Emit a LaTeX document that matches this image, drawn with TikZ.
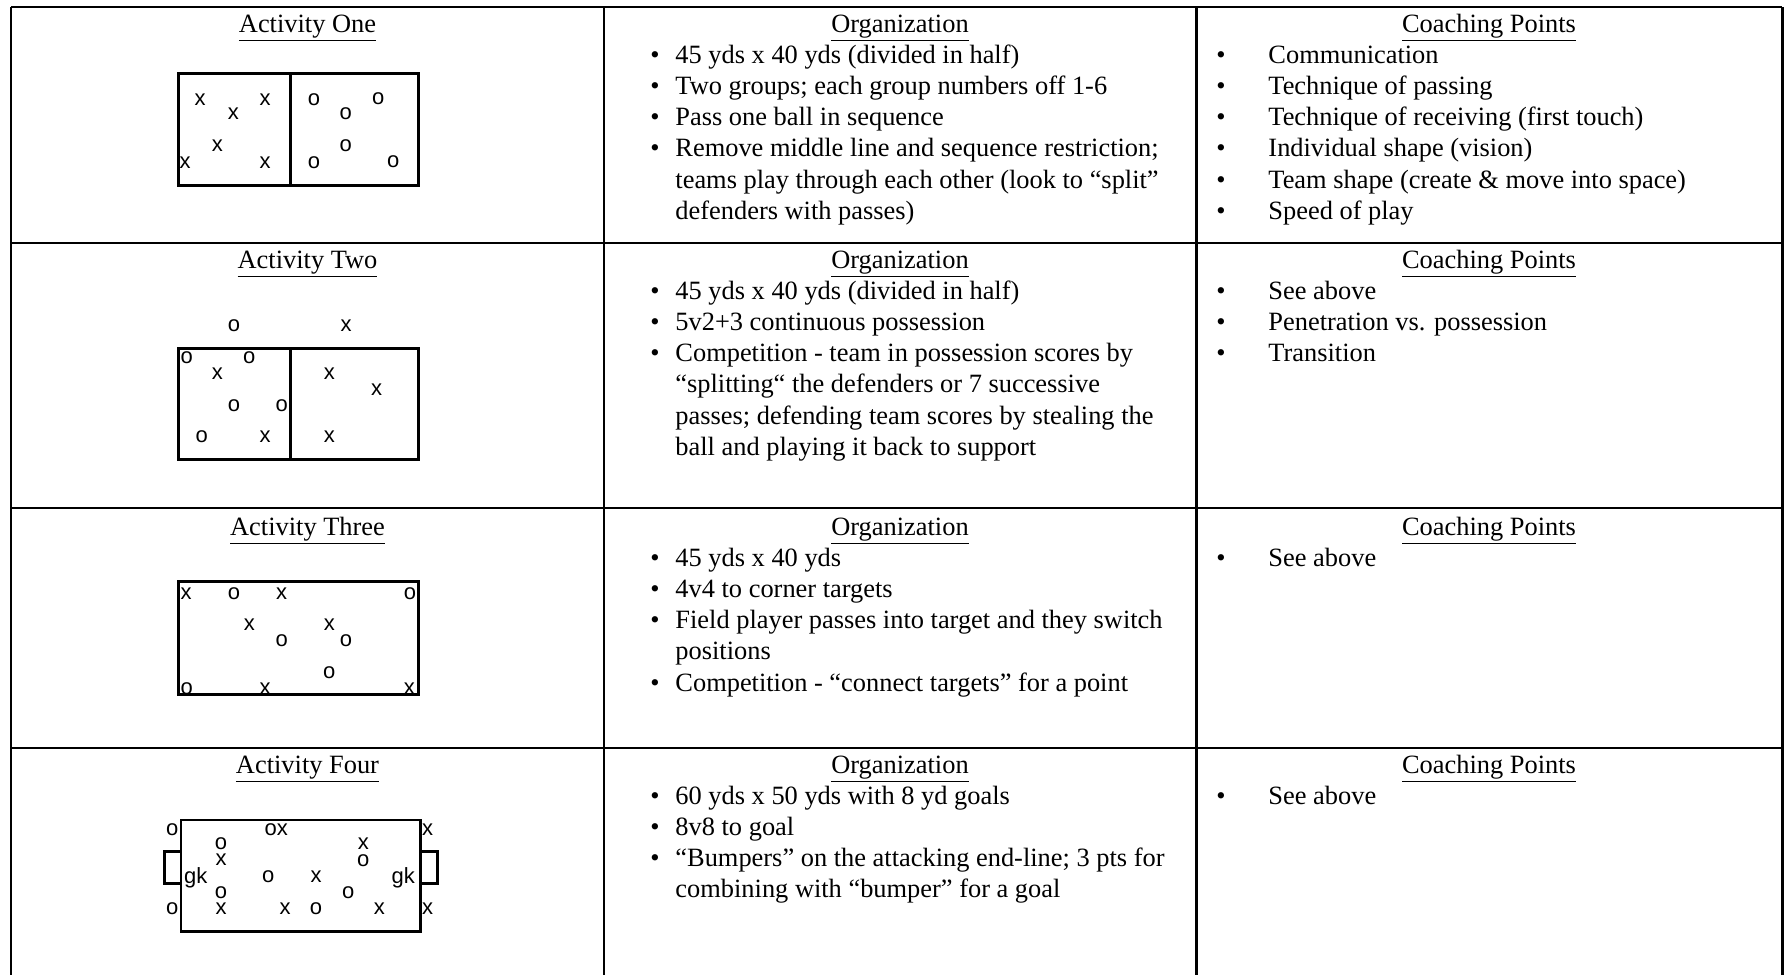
\documentclass[tikz,border=0pt]{standalone}
\usepackage{fontspec}
\setmainfont{Liberation Serif}
\setsansfont{Liberation Sans}
\begin{document}
\begin{tikzpicture}[x=0.4545pt,y=-0.4545pt,
  rule/.style={line width=1.35pt},
  field/.style={line width=1.3pt},
  hd/.style={anchor=base,inner sep=0pt,font=\fontsize{12}{14}\selectfont},
  ln/.style={anchor=base west,inner sep=0pt,font=\fontsize{12}{14}\selectfont},
  bul/.style={anchor=base,inner sep=0pt,font=\fontsize{12}{14}\selectfont},
  mk/.style={anchor=center,inner sep=0pt,font=\sffamily\fontsize{10}{12}\selectfont},
  mkb/.style={anchor=base,inner sep=0pt,font=\sffamily\fontsize{10}{12}\selectfont}]
\useasboundingbox (0,0) rectangle (1787,975);
% table rules
\draw[rule] (11,7) -- (1782,7);
\draw[rule] (11,243) -- (1782,243);
\draw[rule] (11,508) -- (1782,508);
\draw[rule] (11,748) -- (1782,748);
\draw[rule] (11,7) -- (11,975);
\draw[rule] (604,7) -- (604,975);
\draw[rule] (1196,7) -- (1196,975);
\draw[rule] (1782,7) -- (1782,975);
% ---------------- Row 1
\node[hd] (h1a) at (307.5,32) {\underline{Activity One}};
\node[hd] (h1b) at (900,32) {\underline{Organization}};
\node[hd] (h1c) at (1489,32) {\underline{Coaching Points}};
\node[bul] (b1b1) at (655,63.2) {•};
\node[ln] (t1b1) at (675,63.2) {45 yds x 40 yds (divided in half)};
\node[bul] (b1b2) at (655,94.4) {•};
\node[ln] (t1b2) at (675,94.4) {Two groups; each group numbers off 1-6};
\node[bul] (b1b3) at (655,125.6) {•};
\node[ln] (t1b3) at (675,125.6) {Pass one ball in sequence};
\node[bul] (b1b4) at (655,156.8) {•};
\node[ln] (t1b4) at (675,156.8) {Remove middle line and sequence restriction;};
\node[ln] (t1b5) at (675,188.0) {teams play through each other (look to “split”};
\node[ln] (t1b6) at (675,219.2) {defenders with passes)};
\node[bul] (b1c1) at (1221,63.2) {•};
\node[ln] (t1c1) at (1268,63.2) {Communication};
\node[bul] (b1c2) at (1221,94.4) {•};
\node[ln] (t1c2) at (1268,94.4) {Technique of passing};
\node[bul] (b1c3) at (1221,125.6) {•};
\node[ln] (t1c3) at (1268,125.6) {Technique of receiving (first touch)};
\node[bul] (b1c4) at (1221,156.8) {•};
\node[ln] (t1c4) at (1268,156.8) {Individual shape (vision)};
\node[bul] (b1c5) at (1221,188.0) {•};
\node[ln] (t1c5) at (1268,188.0) {Team shape (create \& move into space)};
\node[bul] (b1c6) at (1221,219.2) {•};
\node[ln] (t1c6) at (1268,219.2) {Speed of play};
% diagram 1
\draw[field] (178.3,73.3) rectangle (418.3,185.7);
\draw[field] (290.7,73.3) -- (290.7,185.7);
\node[mk] (d1x1) at (200,99.3) {x};
\node[mk] (d1x2) at (265,99.3) {x};
\node[mk] (d1x3) at (233.3,114) {x};
\node[mk] (d1x4) at (217.3,146) {x};
\node[mk] (d1x5) at (185,162.7) {x};
\node[mk] (d1x6) at (265,162.7) {x};
\node[mk] (d1o1) at (314,99.3) {o};
\node[mk] (d1o2) at (378.3,98.3) {o};
\node[mk] (d1o3) at (345.7,113.3) {o};
\node[mk] (d1o4) at (345.7,146) {o};
\node[mk] (d1o5) at (314,162.7) {o};
\node[mk] (d1o6) at (393.3,161.7) {o};
% ---------------- Row 2
\node[hd] (h2a) at (307.5,268) {\underline{Activity Two}};
\node[hd] (h2b) at (900,268) {\underline{Organization}};
\node[hd] (h2c) at (1489,268) {\underline{Coaching Points}};
\node[bul] (b2b1) at (655,299.2) {•};
\node[ln] (t2b1) at (675,299.2) {45 yds x 40 yds (divided in half)};
\node[bul] (b2b2) at (655,330.4) {•};
\node[ln] (t2b2) at (675,330.4) {5v2+3 continuous possession};
\node[bul] (b2b3) at (655,361.6) {•};
\node[ln] (t2b3) at (675,361.6) {Competition - team in possession scores by};
\node[ln] (t2b4) at (675,392.8) {“splitting“ the defenders or 7 successive};
\node[ln] (t2b5) at (675,424.0) {passes; defending team scores by stealing the};
\node[ln] (t2b6) at (675,455.2) {ball and playing it back to support};
\node[bul] (b2c1) at (1221,299.2) {•};
\node[ln] (t2c1) at (1268,299.2) {See above};
\node[bul] (b2c2) at (1221,330.4) {•};
\node[ln] (t2c2) at (1268,330.4) {Penetration vs. possession};
\node[bul] (b2c3) at (1221,361.6) {•};
\node[ln] (t2c3) at (1268,361.6) {Transition};
% diagram 2
\draw[field] (178.3,348.3) rectangle (418.3,459.3);
\draw[field] (290.7,348.3) -- (290.7,459.3);
\node[mk] (d2o1) at (234,326) {o};
\node[mk] (d2x1) at (346,326) {x};
\node[mk] (d2o2) at (186.7,357.3) {o};
\node[mk] (d2o3) at (249.3,357.3) {o};
\node[mk] (d2x2) at (217.3,374) {x};
\node[mk] (d2o4) at (234,406) {o};
\node[mk] (d2o5) at (281.7,406) {o};
\node[mk] (d2o6) at (201.7,436.7) {o};
\node[mk] (d2x3) at (265,436.7) {x};
\node[mk] (d2x4) at (329.3,374) {x};
\node[mk] (d2x5) at (376.7,389.3) {x};
\node[mk] (d2x6) at (329.3,436.7) {x};
% ---------------- Row 3
\node[hd] (h3a) at (307.5,535) {\underline{Activity Three}};
\node[hd] (h3b) at (900,535) {\underline{Organization}};
\node[hd] (h3c) at (1489,535) {\underline{Coaching Points}};
\node[bul] (b3b1) at (655,566.2) {•};
\node[ln] (t3b1) at (675,566.2) {45 yds x 40 yds};
\node[bul] (b3b2) at (655,597.4) {•};
\node[ln] (t3b2) at (675,597.4) {4v4 to corner targets};
\node[bul] (b3b3) at (655,628.6) {•};
\node[ln] (t3b3) at (675,628.6) {Field player passes into target and they switch};
\node[ln] (t3b4) at (675,659.8) {positions};
\node[bul] (b3b5) at (655,691.0) {•};
\node[ln] (t3b5) at (675,691.0) {Competition - “connect targets” for a point};
\node[bul] (b3c1) at (1221,566.2) {•};
\node[ln] (t3c1) at (1268,566.2) {See above};
% diagram 3
\draw[field] (178.3,581.7) rectangle (418.3,694.3);
\node[mk] (d3x1) at (186,593.3) {x};
\node[mk] (d3o1) at (234,593.3) {o};
\node[mk] (d3x2) at (281.7,593.3) {x};
\node[mk] (d3o2) at (410,593.3) {o};
\node[mk] (d3x3) at (249.3,625) {x};
\node[mk] (d3x4) at (329.3,624.3) {x};
\node[mk] (d3o3) at (281.7,641) {o};
\node[mk] (d3o4) at (346,641) {o};
\node[mk] (d3o5) at (329.3,672.3) {o};
\node[mk] (d3o6) at (186.7,688.3) {o};
\node[mk] (d3x5) at (265,688.3) {x};
\node[mk] (d3x6) at (409.3,688.3) {x};
% ---------------- Row 4
\node[hd] (h4a) at (307.5,773) {\underline{Activity Four}};
\node[hd] (h4b) at (900,773) {\underline{Organization}};
\node[hd] (h4c) at (1489,773) {\underline{Coaching Points}};
\node[bul] (b4b1) at (655,804.2) {•};
\node[ln] (t4b1) at (675,804.2) {60 yds x 50 yds with 8 yd goals};
\node[bul] (b4b2) at (655,835.4) {•};
\node[ln] (t4b2) at (675,835.4) {8v8 to goal};
\node[bul] (b4b3) at (655,866.6) {•};
\node[ln] (t4b3) at (675,866.6) {“Bumpers” on the attacking end-line; 3 pts for};
\node[ln] (t4b4) at (675,897.8) {combining with “bumper” for a goal};
\node[bul] (b4c1) at (1221,804.2) {•};
\node[ln] (t4c1) at (1268,804.2) {See above};
% diagram 4
\draw[field] (181,820) rectangle (420.7,931.7);
\draw[field] (181,851.7) -- (164.3,851.7) -- (164.3,883.3) -- (181,883.3);
\draw[field] (420.7,851.7) -- (437.7,851.7) -- (437.7,883.3) -- (420.7,883.3);
\node[mk] (d4o1) at (172.3,829.3) {o};
\node[mk] (d4ox) at (276.3,829.3) {ox};
\node[mk] (d4x1) at (427.7,829.3) {x};
\node[mk] (d4o2) at (221,844) {o};
\node[mk] (d4x2) at (221,860) {x};
\node[mkb] (d4g1) at (195.7,883.3) {gk};
\node[mk] (d4o3) at (268.3,876.7) {o};
\node[mk] (d4x3) at (316,876.7) {x};
\node[mk] (d4x4) at (363.3,844) {x};
\node[mk] (d4o4) at (363.3,860.7) {o};
\node[mkb] (d4g2) at (403.3,883.3) {gk};
\node[mk] (d4o5) at (221,892.7) {o};
\node[mk] (d4o6) at (348.3,892.7) {o};
\node[mk] (d4o7) at (172.3,908.3) {o};
\node[mk] (d4x5) at (221,908.3) {x};
\node[mk] (d4x6) at (285,908.3) {x};
\node[mk] (d4o8) at (316,908.3) {o};
\node[mk] (d4x7) at (379.3,908.3) {x};
\node[mk] (d4x8) at (427.7,908.3) {x};
\end{tikzpicture}
\end{document}
